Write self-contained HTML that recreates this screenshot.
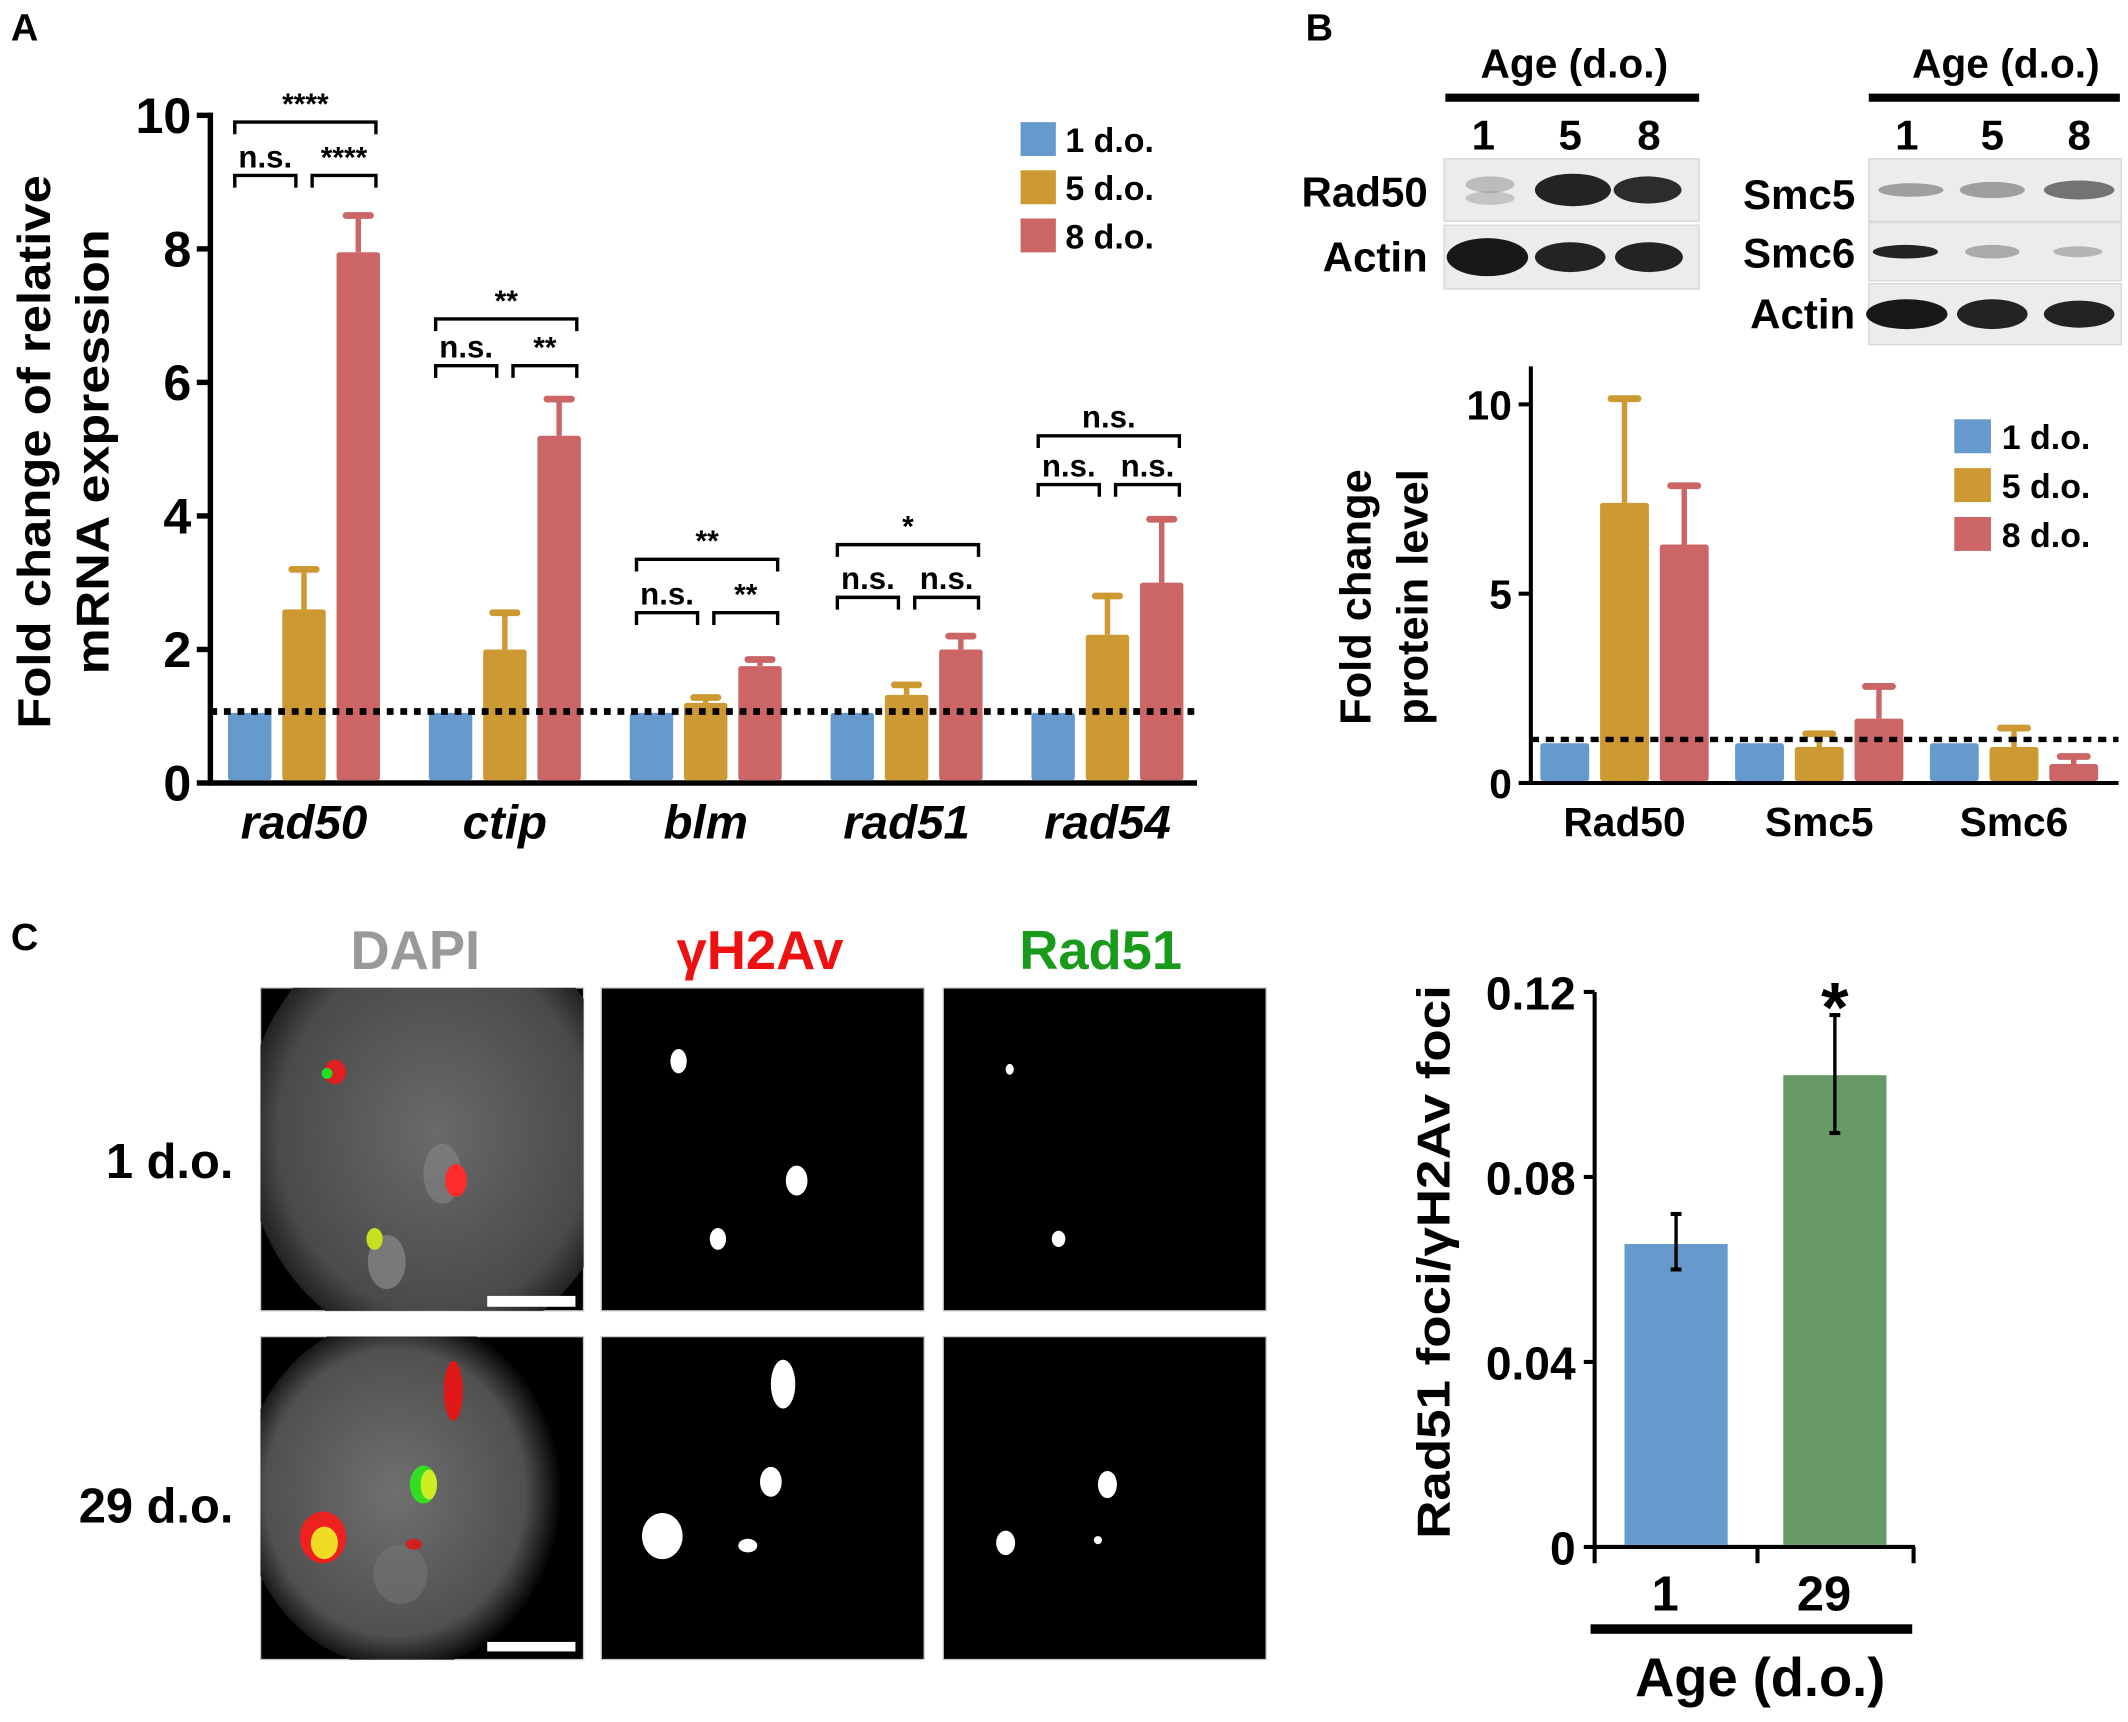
<!DOCTYPE html>
<html><head><meta charset="utf-8"><style>
html,body{margin:0;padding:0;background:#fff;}
svg{display:block;}
text{font-family:"Liberation Sans",Arial,sans-serif;font-weight:bold;}
</style></head><body>
<svg id="fig" width="2128" height="1722" viewBox="0 0 1568 1269" preserveAspectRatio="none" xmlns="http://www.w3.org/2000/svg">
<defs>
<radialGradient id="cell1" cx="50%" cy="50%" r="55%"><stop offset="0" stop-color="#6a6a6a"/><stop offset="0.75" stop-color="#4a4a4a"/><stop offset="1" stop-color="#0a0a0a"/></radialGradient>
<radialGradient id="cell2" cx="48%" cy="50%" r="52%"><stop offset="0" stop-color="#707070"/><stop offset="0.78" stop-color="#505050"/><stop offset="1" stop-color="#000"/></radialGradient>
<clipPath id="clipTop"><rect x="192" y="728" width="238" height="238"/></clipPath>
<clipPath id="clipBot"><rect x="192" y="985" width="238" height="238"/></clipPath>
</defs>

<text x="8" y="30" font-size="28">A</text>
<text x="962" y="30" font-size="28">B</text>
<text x="8" y="700" font-size="28">C</text>

<g id="chartA"></g>
<g id="blots"></g>
<g id="chartB"></g>
<g id="images"></g>
<g id="chartC"></g>
</svg>
<script>
// ---------- Data ----------
const catsA = ['rad50','ctip','blm','rad51','rad54'];
const seriesNames = ['1 d.o.','5 d.o.','8 d.o.'];
const valsA1 = [1.05,1.05,1.05,1.05,1.05];
const valsA5 = [2.6,2.0,1.2,1.32,2.22];
const valsA8 = [7.95,5.2,1.75,2.0,3.0];
const errA5 = [3.2,2.55,1.28,1.47,2.8];
const errA8 = [8.5,5.75,1.85,2.2,3.95];
const ticksA = [0,2,4,6,8,10];
const sigTop = ['****','**','**','*','n.s.'];
const sigL = ['n.s.','n.s.','n.s.','n.s.','n.s.'];
const sigR = ['****','**','**','n.s.','n.s.'];
const brTopA = [9.9,6.95,3.35,3.57,5.2];
const brLowA = [9.1,6.25,2.55,2.78,4.47];
const refA = 1.07;

const catsB = ['Rad50','Smc5','Smc6'];
const valsB1 = [1.05,1.05,1.05];
const valsB5 = [7.4,0.95,0.95];
const valsB8 = [6.3,1.7,0.5];
const errB5 = [10.15,1.3,1.45];
const errB8 = [7.85,2.55,0.7];
const ticksB = [0,5,10];
const refB = 1.15;

const catsC = ['1','29'];
const valsC = [0.0655,0.102];
const errCLo = [0.060,0.0895];
const errCHi = [0.072,0.115];
const ticksC = [0,0.04,0.08,0.12];
const tickLabC = ['0','0.04','0.08','0.12'];

const NS='http://www.w3.org/2000/svg';
function mk(parent,tag,attrs,txt){const e=document.createElementNS(NS,tag);for(const k in attrs)e.setAttribute(k,attrs[k]);if(txt!==undefined)e.textContent=txt;parent.appendChild(e);return e;}
const colors=['#6699cc','#cc9933','#cc6666'];

// ---------- Chart A ----------
(function(){
const g=document.getElementById('chartA');
const x0=155,y0=577,pxu=49.2;
const yA=v=>y0-v*pxu;
const xC=i=>224+i*148;
let e=mk(g,'line',{x1:x0,y1:yA(10)-2,x2:x0,y2:y0,stroke:'#000','stroke-width':4});

e=mk(g,'line',{x1:x0-2,y1:y0,x2:882,y2:y0,stroke:'#000','stroke-width':4});

ticksA.forEach(t=>{
 mk(g,'line',{x1:x0-10,y1:yA(t),x2:x0,y2:yA(t),stroke:'#000','stroke-width':4});
 e=mk(g,'text',{x:x0-14,y:yA(t)+13,'font-size':37,'text-anchor':'end'},String(t));
 
});
const series=[valsA1,valsA5,valsA8],errs=[null,errA5,errA8];
catsA.forEach((c,i)=>{
 [-40,0,40].forEach((off,s)=>{
  const v=series[s][i],bx=xC(i)+off-16;
  if(errs[s]){const ev=errs[s][i];
   mk(g,'line',{x1:xC(i)+off,y1:yA(ev),x2:xC(i)+off,y2:yA(v),stroke:colors[s],'stroke-width':4});
   mk(g,'line',{x1:xC(i)+off-9,y1:yA(ev),x2:xC(i)+off+9,y2:yA(ev),stroke:colors[s],'stroke-width':5,'stroke-linecap':'round'});}
  e=mk(g,'rect',{x:bx,y:yA(v),width:32,height:y0-yA(v)-2,fill:colors[s],rx:2});
  
 });
 e=mk(g,'text',{x:xC(i),y:618,'font-size':35,'font-style':'italic','text-anchor':'middle'},c);
 
 const xl=xC(i)-51,xr=xC(i)+53,xm=xC(i)-6,xm2=xC(i)+6;
 const yt=yA(brTopA[i]),yl=yA(brLowA[i]);
 mk(g,'path',{d:`M${xl} ${yt+9}V${yt}H${xr}V${yt+9}`,fill:'none',stroke:'#000','stroke-width':2.5});
 mk(g,'path',{d:`M${xl} ${yl+9}V${yl}H${xm}V${yl+9}M${xm2} ${yl+9}V${yl}H${xr}V${yl+9}`,fill:'none',stroke:'#000','stroke-width':2.5});
 e=mk(g,'text',{x:xC(i)+1,y:yt-6,'font-size':sigTop[i]=='n.s.'?23:22,'font-weight':'normal','text-anchor':'middle'},sigTop[i]);
 
 e=mk(g,'text',{x:(xl+xm)/2,y:yl-6,'font-size':23,'font-weight':'normal','text-anchor':'middle'},sigL[i]);
 
 e=mk(g,'text',{x:(xm2+xr)/2,y:yl-6,'font-size':sigR[i]=='n.s.'?23:22,'font-weight':'normal','text-anchor':'middle'},sigR[i]);
 
});
e=mk(g,'line',{x1:x0,y1:yA(refA),x2:882,y2:yA(refA),stroke:'#000','stroke-width':5,'stroke-dasharray':'5,5'});

e=mk(g,'text',{transform:'translate(37,333) rotate(-90)','font-size':34,'text-anchor':'middle',textLength:408,lengthAdjust:'spacingAndGlyphs'},'Fold change of relative');

e=mk(g,'text',{transform:'translate(80,333) rotate(-90)','font-size':34,'text-anchor':'middle',textLength:328,lengthAdjust:'spacingAndGlyphs'},'mRNA expression');

seriesNames.forEach((n,s)=>{
 e=mk(g,'rect',{x:752,y:90+s*35.5,width:26,height:25,fill:colors[s]});
 
 e=mk(g,'text',{x:785,y:112+s*35.5,'font-size':25},n);
 
});
})();

// ---------- Blots ----------
(function(){
const g=document.getElementById('blots');
let e;
function header(cx,x1,x2,nums){
 e=mk(g,'text',{x:cx,y:57,'font-size':30,'text-anchor':'middle'},'Age (d.o.)');
 
 mk(g,'rect',{x:x1,y:69,width:x2-x1,height:6,fill:'#000'});
 nums.forEach(p=>{e=mk(g,'text',{x:p[0],y:110,'font-size':31,'text-anchor':'middle'},p[1]);
  });
}
header(1160,1065,1252,[[1093,'1'],[1157,'5'],[1215,'8']]);
header(1478,1377,1562,[[1405,'1'],[1468,'5'],[1532,'8']]);
function strip(x,y,w,h,name,bands){
 e=mk(g,'rect',{x:x,y:y,width:w,height:h,fill:'#ececec',stroke:'#d8d8d8','stroke-width':1});
 
 bands.forEach(b=>{mk(g,'ellipse',{cx:b[0],cy:y+h/2+(b[4]||0),rx:b[1],ry:b[2],fill:'#111','fill-opacity':b[3]});});
}
strip(1064,117,188,46,'blot-rad50',[[1098,18,6,0.22,-4],[1098,18,5,0.18,6],[1159,28,12,0.92],[1214,25,10,0.88]]);
strip(1064,166,188,47,'blot-actin-left',[[1096,30,14,0.97],[1157,26,11,0.92],[1215,25,11,0.92]]);
strip(1377,117,186,46,'blot-smc5',[[1408,24,5,0.35],[1468,24,6,0.35],[1532,26,7,0.55]]);
strip(1377,164,186,43,'blot-smc6',[[1404,24,5,0.92],[1468,20,5,0.3],[1531,18,4,0.25]]);
strip(1377,209,186,45,'blot-actin-right',[[1405,30,11,0.97],[1468,26,11,0.92],[1532,26,10,0.92]]);
[['Rad50',1052,152],['Actin',1052,200],['Smc5',1367,154],['Smc6',1367,197],['Actin',1367,242]].forEach(l=>{
 e=mk(g,'text',{x:l[1],y:l[2],'font-size':31,'text-anchor':'end'},l[0]);
 
});
})();

// ---------- Chart B ----------
(function(){
const g=document.getElementById('chartB');
const x0=1128,y0=577,pxu=27.9;
const yB=v=>y0-v*pxu;
const xC=i=>1197+i*143.5;
let e=mk(g,'line',{x1:x0,y1:270,x2:x0,y2:y0,stroke:'#000','stroke-width':3});

e=mk(g,'line',{x1:x0,y1:y0,x2:1561,y2:y0,stroke:'#000','stroke-width':3});

ticksB.forEach(t=>{
 mk(g,'line',{x1:x0-9,y1:yB(t),x2:x0,y2:yB(t),stroke:'#000','stroke-width':3});
 e=mk(g,'text',{x:x0-14,y:yB(t)+11,'font-size':30,'text-anchor':'end'},String(t));
 
});
const series=[valsB1,valsB5,valsB8],errs=[null,errB5,errB8];
catsB.forEach((c,i)=>{
 [-44,0,44].forEach((off,s)=>{
  const v=series[s][i],cx=xC(i)+off;
  if(errs[s]){const ev=errs[s][i];
   mk(g,'line',{x1:cx,y1:yB(ev),x2:cx,y2:yB(v),stroke:colors[s],'stroke-width':4});
   mk(g,'line',{x1:cx-10,y1:yB(ev),x2:cx+10,y2:yB(ev),stroke:colors[s],'stroke-width':5,'stroke-linecap':'round'});}
  e=mk(g,'rect',{x:cx-18,y:yB(v),width:36,height:y0-yB(v)-1.5,fill:colors[s],rx:2});
  
 });
 e=mk(g,'text',{x:xC(i),y:616,'font-size':30,'text-anchor':'middle'},c);
 
});
e=mk(g,'line',{x1:x0,y1:yB(refB),x2:1561,y2:yB(refB),stroke:'#000','stroke-width':4,'stroke-dasharray':'6,5'});

e=mk(g,'text',{transform:'translate(1010,440) rotate(-90)','font-size':32,'text-anchor':'middle'},'Fold change');

e=mk(g,'text',{transform:'translate(1052,440) rotate(-90)','font-size':32,'text-anchor':'middle'},'protein level');

seriesNames.forEach((n,s)=>{
 e=mk(g,'rect',{x:1440,y:309+s*36,width:27,height:25,fill:colors[s]});
 
 e=mk(g,'text',{x:1475,y:331+s*36,'font-size':25},n);
 
});
})();

// ---------- Microscopy ----------
(function(){
const g=document.getElementById('images');
let e;
[['DAPI',306,'#999999'],['\u03b3H2Av',560,'#ee1111'],['Rad51',811,'#1a9a1a']].forEach(t=>{
 e=mk(g,'text',{x:t[1],y:714,'font-size':40,'text-anchor':'middle',fill:t[2],'font-family':'"DejaVu Sans","Liberation Sans",sans-serif'},t[0]);
 
});
[['1 d.o.',868],['29 d.o.',1122]].forEach(t=>{
 e=mk(g,'text',{x:172,y:t[1],'font-size':36,'text-anchor':'end'},t[0]);
 
});
const cols=[192,443,695],rows=[728,985];
rows.forEach((ry,r)=>cols.forEach((cx,c)=>{
 e=mk(g,'rect',{x:cx,y:ry,width:238,height:238,fill:'#000',stroke:'#ccc','stroke-width':1});
 
}));
const top=mk(g,'g',{'clip-path':'url(#clipTop)'});
const bot=mk(g,'g',{'clip-path':'url(#clipBot)'});
// DAPI 1 d.o.
mk(top,'ellipse',{cx:320,cy:835,rx:140,ry:160,fill:'url(#cell1)'});
mk(top,'ellipse',{cx:285,cy:930,rx:14,ry:20,fill:'#8a8a8a','fill-opacity':0.7});
mk(top,'ellipse',{cx:326,cy:865,rx:14,ry:22,fill:'#8a8a8a','fill-opacity':0.55});
mk(top,'ellipse',{cx:247,cy:790,rx:8,ry:9,fill:'#e02020'});
mk(top,'circle',{cx:241,cy:791,r:4,fill:'#22dd22'});
mk(top,'ellipse',{cx:336,cy:870,rx:8,ry:12,fill:'#ff2a2a'});
mk(top,'ellipse',{cx:276,cy:913,rx:6,ry:8,fill:'#c8e020'});
mk(top,'rect',{x:359,y:955,width:65,height:8,fill:'#fff'});
// DAPI 29 d.o.
mk(bot,'ellipse',{cx:296,cy:1100,rx:118,ry:130,fill:'url(#cell2)'});
mk(bot,'ellipse',{cx:295,cy:1160,rx:20,ry:22,fill:'#777','fill-opacity':0.5});
mk(bot,'ellipse',{cx:334,cy:1025,rx:7,ry:22,fill:'#e01818'});
mk(bot,'ellipse',{cx:312,cy:1094,rx:10,ry:14,fill:'#33dd22'});
mk(bot,'ellipse',{cx:316,cy:1094,rx:6,ry:11,fill:'#ccee22'});
mk(bot,'ellipse',{cx:238,cy:1133,rx:17,ry:19,fill:'#ee2020'});
mk(bot,'ellipse',{cx:239,cy:1137,rx:10,ry:12,fill:'#eedd22'});
mk(bot,'ellipse',{cx:305,cy:1138,rx:6,ry:4,fill:'#d02020'});
mk(bot,'rect',{x:359,y:1210,width:65,height:7,fill:'#fff'});
// gammaH2Av spots
[[500,782,6,9],[587,870,8,11],[529,913,6,8],[577,1020,9,18],[568,1092,8,11],[488,1132,15,17],[551,1139,7,5]].forEach(d=>{
 mk(g,'ellipse',{cx:d[0],cy:d[1],rx:d[2],ry:d[3],fill:'#fff'});});
// Rad51 spots
[[744,788,3,4],[780,913,5,6],[816,1094,7,10],[741,1137,7,9],[809,1135,3,3]].forEach(d=>{
 mk(g,'ellipse',{cx:d[0],cy:d[1],rx:d[2],ry:d[3],fill:'#fff'});});
})();

// ---------- Chart C ----------
(function(){
const g=document.getElementById('chartC');
const x0=1175,y0=1140,top=731;
const yC=v=>y0-v/0.12*(y0-top);
const xC=i=>1235+i*117;
let e=mk(g,'line',{x1:x0,y1:top,x2:x0,y2:y0+1,stroke:'#000','stroke-width':3});

e=mk(g,'line',{x1:x0,y1:y0,x2:1411,y2:y0,stroke:'#000','stroke-width':3});

[1175,1295,1410].forEach(x=>mk(g,'line',{x1:x,y1:y0,x2:x,y2:y0+12,stroke:'#000','stroke-width':3}));
ticksC.forEach((t,k)=>{
 mk(g,'line',{x1:x0-8,y1:yC(t),x2:x0,y2:yC(t),stroke:'#000','stroke-width':3});
 e=mk(g,'text',{x:x0-14,y:yC(t)+13,'font-size':34,'text-anchor':'end'},tickLabC[k]);
 
});
const cc=['#6699cc','#669966'];
catsC.forEach((c,i)=>{
 e=mk(g,'rect',{x:xC(i)-38,y:yC(valsC[i]),width:76,height:y0-yC(valsC[i])-1.5,fill:cc[i]});
 
 mk(g,'line',{x1:xC(i),y1:yC(errCHi[i]),x2:xC(i),y2:yC(errCLo[i]),stroke:'#000','stroke-width':2.5});
 mk(g,'line',{x1:xC(i)-4,y1:yC(errCHi[i]),x2:xC(i)+4,y2:yC(errCHi[i]),stroke:'#000','stroke-width':3});
 mk(g,'line',{x1:xC(i)-4,y1:yC(errCLo[i]),x2:xC(i)+4,y2:yC(errCLo[i]),stroke:'#000','stroke-width':3});
 e=mk(g,'text',{x:xC(i)-8,y:1187,'font-size':36,'text-anchor':'middle'},c);
 
});
e=mk(g,'text',{x:xC(1),y:yC(errCHi[1])+12,'font-size':52,'font-weight':'normal','text-anchor':'middle'},'*');

mk(g,'rect',{x:1172,y:1197,width:237,height:7,fill:'#000'});
e=mk(g,'text',{x:1297,y:1250,'font-size':40,'text-anchor':'middle'},'Age (d.o.)');

e=mk(g,'text',{transform:'translate(1068,930) rotate(-90)','font-size':34,'text-anchor':'middle',textLength:408,lengthAdjust:'spacingAndGlyphs','font-family':'"DejaVu Sans","Liberation Sans",sans-serif'},'Rad51 foci/\u03b3H2Av foci');

})();
</script>
</body></html>
